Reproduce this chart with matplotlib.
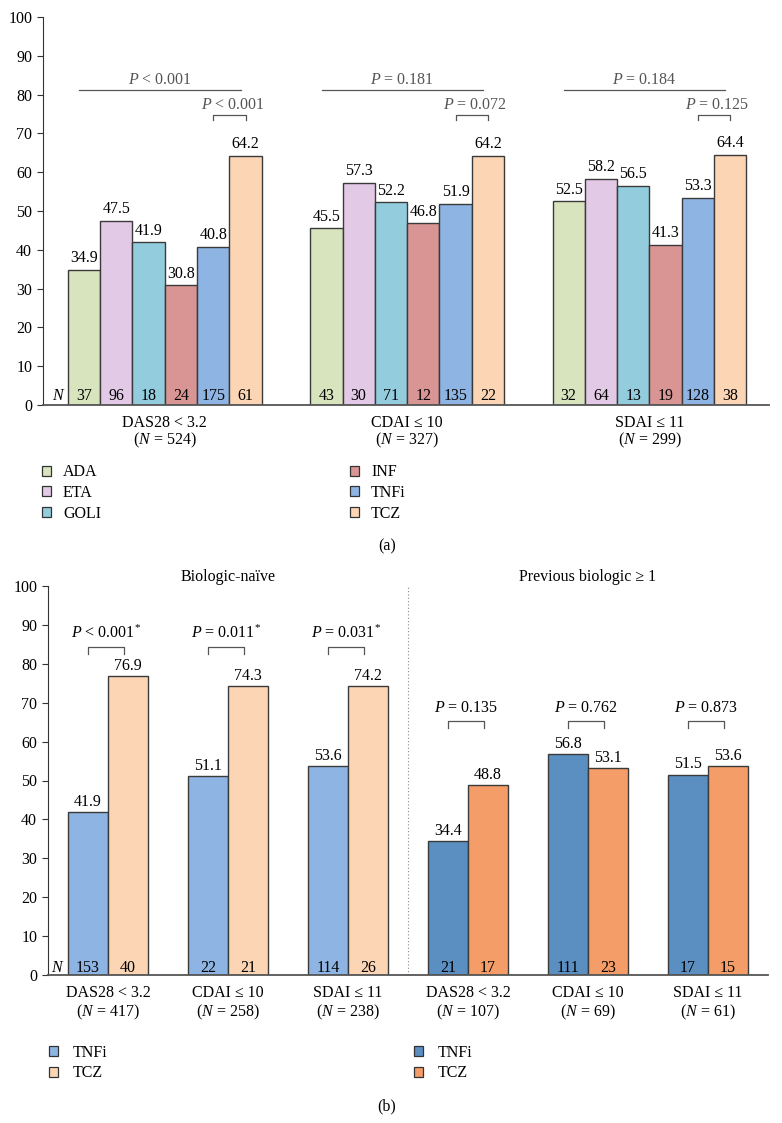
import numpy as np
import matplotlib
matplotlib.use("Agg")
import matplotlib.pyplot as plt
from matplotlib.patches import Patch

plt.rcParams["font.family"] = ["Liberation Serif", "DejaVu Serif"]
plt.rcParams["mathtext.fontset"] = "custom"
plt.rcParams["mathtext.rm"] = "Liberation Serif"
plt.rcParams["mathtext.it"] = "Liberation Serif:italic"

# ---------------- data, panel (a) ----------------
drugs_a = ["ADA", "ETA", "GOLI", "INF", "TNFi", "TCZ"]
colors_a = ["#d7e4bd", "#e2c9e6", "#93cddd", "#d99594", "#8eb4e3", "#fcd5b5"]
outcomes_a = ["DAS28 < 3.2", "CDAI ≤ 10", "SDAI ≤ 11"]
total_n_a = [524, 327, 299]
rates_a = [
    [34.9, 47.5, 41.9, 30.8, 40.8, 64.2],
    [45.5, 57.3, 52.2, 46.8, 51.9, 64.2],
    [52.5, 58.2, 56.5, 41.3, 53.3, 64.4],
]
counts_a = [
    [37, 96, 18, 24, 175, 61],
    [43, 30, 71, 12, 135, 22],
    [32, 64, 13, 19, 128, 38],
]
p_all_a = ["< 0.001", "= 0.181", "= 0.184"]
p_pair_a = ["< 0.001", "= 0.072", "= 0.125"]

# ---------------- data, panel (b) ----------------
groups_b = ["Biologic-naïve", "Previous biologic ≥ 1"]
outcomes_b = ["DAS28 < 3.2", "CDAI ≤ 10", "SDAI ≤ 11"]
total_n_b = [[417, 258, 238], [107, 69, 61]]
tnfi_b = [[41.9, 51.1, 53.6], [34.4, 56.8, 51.5]]
tcz_b = [[76.9, 74.3, 74.2], [48.8, 53.1, 53.6]]
tnfi_n_b = [[153, 22, 114], [21, 111, 17]]
tcz_n_b = [[40, 21, 26], [17, 23, 15]]
p_b = [["< 0.001", "= 0.011", "= 0.031"], ["= 0.135", "= 0.762", "= 0.873"]]
star_b = [True, False]
colors_b = [["#8eb4e3", "#fcd5b5"], ["#5b8ec1", "#f49d68"]]

W, H = 782, 1123
FS = 11.5
EDGE = "#3a3a3a"
GRAY = "#555555"

fig = plt.figure(figsize=(W / 100, H / 100), dpi=100)


def style_axis(ax):
    ax.set_ylim(0, 100)
    ax.set_yticks(np.arange(0, 101, 10))
    ax.set_xticks([])
    for s in ["top", "right"]:
        ax.spines[s].set_visible(False)
    ax.spines["left"].set_color("#333333")
    ax.spines["left"].set_linewidth(0.8)
    ax.spines["bottom"].set_color(GRAY)
    ax.spines["bottom"].set_linewidth(1.3)
    ax.tick_params(axis="y", direction="out", length=4.3, width=0.8,
                   color="#333333", labelsize=FS, pad=3.5)


def bracket(ax, x0, x1, y, drop, color):
    ax.plot([x0, x0, x1, x1], [y - drop, y, y, y - drop], color=color,
            lw=0.9, clip_on=False)


# ---------------- panel (a) ----------------
ax = fig.add_axes([43 / W, 1 - 405 / H, 726 / W, 388 / H])
style_axis(ax)
ax.set_xlim(-0.77, 21.7)

for g in range(len(outcomes_a)):
    x0 = 7.5 * g
    xs = x0 + np.arange(len(drugs_a)) + 0.5
    ax.bar(xs, rates_a[g], width=1.0, color=colors_a, edgecolor=EDGE, lw=1.0)
    for x, v, n in zip(xs, rates_a[g], counts_a[g]):
        ax.text(x, v + 2.0, f"{v:.1f}", ha="center", va="baseline", fontsize=FS)
        ax.text(x, 1.3, str(n), ha="center", va="baseline", fontsize=FS)
    # overall comparison
    ax.plot([x0 + 0.35, x0 + 5.35], [81.3, 81.3], color=GRAY, lw=0.9)
    ax.text(x0 + 2.85, 82.8, f"$P$ {p_all_a[g]}", ha="center", va="baseline",
            fontsize=FS, color=GRAY)
    # TNFi vs TCZ
    bracket(ax, x0 + 4.5, x0 + 5.5, 74.7, 1.3, GRAY)
    ax.text(x0 + 5.1, 76.4, f"$P$ {p_pair_a[g]}", ha="center", va="baseline",
            fontsize=FS, color=GRAY)
    cx = x0 + 3.0
    ax.text(cx, -4.7, outcomes_a[g], ha="center", va="center", fontsize=FS,
            clip_on=False)
    ax.text(cx, -9.1, f"($N$ = {total_n_a[g]})", ha="center", va="center",
            fontsize=FS, clip_on=False)
ax.text(-0.28, 1.3, "$N$", ha="center", va="baseline", fontsize=FS)

handles = [Patch(facecolor=c, edgecolor="#333333", lw=0.9) for c in colors_a]
leg_kw = dict(loc="center left", frameon=False, fontsize=FS, borderpad=0,
              borderaxespad=0, handlelength=0.6, handleheight=0.6,
              handletextpad=0.75, labelspacing=0.3)
fig.legend(handles[:3], drugs_a[:3], bbox_to_anchor=(41.5 / W, 1 - 493 / H), **leg_kw)
fig.legend(handles[3:], drugs_a[3:], bbox_to_anchor=(349.5 / W, 1 - 493 / H), **leg_kw)
fig.text(387 / W, 1 - 546 / H, "(a)", ha="center", va="center", fontsize=FS)

# ---------------- panel (b) ----------------
ax = fig.add_axes([48 / W, 1 - 975 / H, 720 / W, 389 / H])
style_axis(ax)
ax.set_xlim(-0.5, 17.5)

for h in range(len(groups_b)):
    for k in range(len(outcomes_b)):
        x0 = 3 * (3 * h + k)
        vals = [tnfi_b[h][k], tcz_b[h][k]]
        ns = [tnfi_n_b[h][k], tcz_n_b[h][k]]
        xs = x0 + np.array([0.5, 1.5])
        ax.bar(xs, vals, width=1.0, color=colors_b[h], edgecolor=EDGE, lw=1.0)
        for x, v, n in zip(xs, vals, ns):
            ax.text(x, v + 1.6, f"{v:.1f}", ha="center", va="baseline", fontsize=FS)
            ax.text(x, 0.8, str(n), ha="center", va="baseline", fontsize=FS)
        top = 84.3 if h == 0 else 65.3
        bracket(ax, x0 + 0.5, x0 + 1.4, top, 1.9, GRAY)
        lab = f"$P$ {p_b[h][k]}" + ("$^{*}$" if star_b[h] else "")
        ax.text(x0 + 0.95, top + 2.3, lab, ha="center", va="baseline", fontsize=FS)
        cx = x0 + 1.0
        ax.text(cx, -4.6, outcomes_b[k], ha="center", va="center", fontsize=FS,
                clip_on=False)
        ax.text(cx, -9.6, f"($N$ = {total_n_b[h][k]})", ha="center", va="center",
                fontsize=FS, clip_on=False)
    ax.text(4.0 + 9 * h, 102.3, groups_b[h], ha="center", va="center",
            fontsize=FS, clip_on=False)
ax.plot([8.5, 8.5], [0, 100], color="#888888", lw=0.8, ls=(0, (1, 2)))
ax.text(-0.25, 0.8, "$N$", ha="center", va="baseline", fontsize=FS)

for h, xl in zip(range(2), [48.5, 413.5]):
    hb = [Patch(facecolor=c, edgecolor="#333333", lw=0.9) for c in colors_b[h]]
    fig.legend(hb, ["TNFi", "TCZ"], bbox_to_anchor=(xl / W, 1 - 1063 / H),
               **{**leg_kw, "handletextpad": 0.9})
fig.text(387 / W, 1 - 1106 / H, "(b)", ha="center", va="center", fontsize=FS)

fig.savefig("out.png", dpi=100)
